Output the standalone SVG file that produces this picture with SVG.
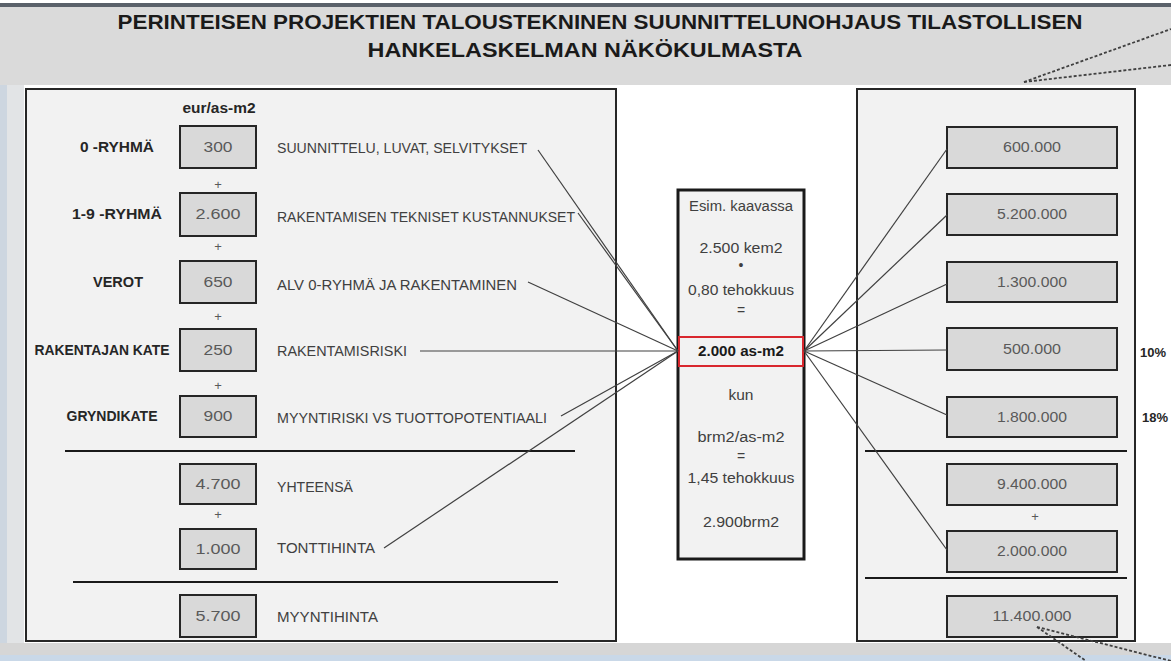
<svg xmlns="http://www.w3.org/2000/svg" width="1171" height="661" viewBox="0 0 1171 661">
<defs>
<style>
.bg-title{fill:#dadada}
.panel{fill:#f2f2f2;stroke:#262626;stroke-width:2}
.box{fill:#d9d9d9;stroke:#262626;stroke-width:2}
.val{font-family:"Liberation Sans",Arial,sans-serif;font-size:14px;fill:#595959;text-anchor:middle}
.lbl{font-family:"Liberation Sans",Arial,sans-serif;font-size:14px;fill:#404040}
.blbl{font-family:"Liberation Sans",Arial,sans-serif;font-size:14px;font-weight:bold;fill:#262626;text-anchor:middle}
.mid{font-family:"Liberation Sans",Arial,sans-serif;font-size:14px;fill:#404040;text-anchor:middle}
.plus{font-family:"Liberation Sans",Arial,sans-serif;font-size:13px;fill:#595959;text-anchor:middle}
.title{font-family:"Liberation Sans",Arial,sans-serif;font-size:20px;font-weight:bold;fill:#1a1a1a;text-anchor:middle}
.sep{stroke:#1a1a1a;stroke-width:2}
.conn{stroke:#404040;stroke-width:1.2;fill:none}
.dash{stroke:#404040;stroke-width:1.8;stroke-dasharray:3 2;fill:none}
</style>
</defs>
<!-- background -->
<rect x="0" y="0" width="1171" height="661" fill="#ffffff"/>
<rect x="0" y="85" width="24" height="576" fill="#e2e4e6"/>
<rect x="0" y="85" width="7" height="576" fill="#cdd6e0"/>
<rect class="bg-title" x="0" y="6" width="1171" height="79"/>
<rect x="0" y="3" width="1171" height="4" fill="#5a616a"/>
<rect x="0" y="643" width="1171" height="18" fill="#d6d6d6"/>
<rect x="0" y="655" width="1171" height="6" fill="#c9d8e8"/>

<g id="title">
<text class="title" x="600" y="29" textLength="965" lengthAdjust="spacingAndGlyphs">PERINTEISEN PROJEKTIEN TALOUSTEKNINEN SUUNNITTELUNOHJAUS TILASTOLLISEN</text>
<text class="title" x="585" y="57" textLength="435" lengthAdjust="spacingAndGlyphs">HANKELASKELMAN NÄKÖKULMASTA</text>
</g>

<g id="left-panel">
<rect class="panel" x="26" y="89" width="590" height="552"/>
<text class="blbl" x="219" y="113" textLength="73" lengthAdjust="spacingAndGlyphs">eur/as-m2</text>
<line class="sep" x1="65" y1="451" x2="575" y2="451"/>
<line class="sep" x1="73" y1="582" x2="558" y2="582"/>
<text class="plus" x="218" y="189">+</text>
<text class="plus" x="218" y="251">+</text>
<text class="plus" x="218" y="321">+</text>
<text class="plus" x="218" y="390">+</text>
<text class="plus" x="218" y="519">+</text>
</g>

<g id="row-0">
<text class="blbl" x="117" y="152" textLength="74" lengthAdjust="spacingAndGlyphs">0 -RYHMÄ</text>
<rect class="box" x="180" y="126" width="76" height="42"/>
<text class="val" x="218" y="152" textLength="29" lengthAdjust="spacingAndGlyphs">300</text>
<text class="lbl" x="277" y="153" textLength="250" lengthAdjust="spacingAndGlyphs">SUUNNITTELU, LUVAT, SELVITYKSET</text>
</g>
<g id="row-1-9">
<text class="blbl" x="117" y="219" textLength="90" lengthAdjust="spacingAndGlyphs">1-9 -RYHMÄ</text>
<rect class="box" x="180" y="193" width="76" height="43"/>
<text class="val" x="218" y="219" textLength="45" lengthAdjust="spacingAndGlyphs">2.600</text>
<text class="lbl" x="277" y="222" textLength="298" lengthAdjust="spacingAndGlyphs">RAKENTAMISEN TEKNISET KUSTANNUKSET</text>
</g>
<g id="row-verot">
<text class="blbl" x="118" y="287" textLength="50" lengthAdjust="spacingAndGlyphs">VEROT</text>
<rect class="box" x="180" y="261" width="76" height="42"/>
<text class="val" x="218" y="287" textLength="29" lengthAdjust="spacingAndGlyphs">650</text>
<text class="lbl" x="277" y="290" textLength="240" lengthAdjust="spacingAndGlyphs">ALV 0-RYHMÄ JA RAKENTAMINEN</text>
</g>
<g id="row-rakentajan-kate">
<text class="blbl" x="102" y="355" textLength="135" lengthAdjust="spacingAndGlyphs">RAKENTAJAN KATE</text>
<rect class="box" x="180" y="329" width="76" height="42"/>
<text class="val" x="218" y="355" textLength="29" lengthAdjust="spacingAndGlyphs">250</text>
<text class="lbl" x="277" y="356" textLength="130" lengthAdjust="spacingAndGlyphs">RAKENTAMISRISKI</text>
</g>
<g id="row-gryndikate">
<text class="blbl" x="112" y="421" textLength="91" lengthAdjust="spacingAndGlyphs">GRYNDIKATE</text>
<rect class="box" x="180" y="396" width="76" height="41"/>
<text class="val" x="218" y="421" textLength="29" lengthAdjust="spacingAndGlyphs">900</text>
<text class="lbl" x="277" y="423" textLength="270" lengthAdjust="spacingAndGlyphs">MYYNTIRISKI VS TUOTTOPOTENTIAALI</text>
</g>
<g id="row-yhteensa">
<rect class="box" x="180" y="464" width="76" height="40"/>
<text class="val" x="218" y="489" textLength="45" lengthAdjust="spacingAndGlyphs">4.700</text>
<text class="lbl" x="277" y="492" textLength="76" lengthAdjust="spacingAndGlyphs">YHTEENSÄ</text>
</g>
<g id="row-tonttihinta">
<rect class="box" x="180" y="529" width="76" height="40"/>
<text class="val" x="218" y="554" textLength="45" lengthAdjust="spacingAndGlyphs">1.000</text>
<text class="lbl" x="277" y="553" textLength="98" lengthAdjust="spacingAndGlyphs">TONTTIHINTA</text>
</g>
<g id="row-myyntihinta">
<rect class="box" x="180" y="595" width="76" height="42"/>
<text class="val" x="218" y="621" textLength="45" lengthAdjust="spacingAndGlyphs">5.700</text>
<text class="lbl" x="277" y="622" textLength="101" lengthAdjust="spacingAndGlyphs">MYYNTIHINTA</text>
</g>

<g id="middle-box">
<rect x="678" y="190" width="126" height="369" fill="#f2f2f2" stroke="#1a1a1a" stroke-width="3"/>
<text class="mid" x="741" y="211" textLength="104" lengthAdjust="spacingAndGlyphs">Esim. kaavassa</text>
<text class="mid" x="741" y="253" textLength="83" lengthAdjust="spacingAndGlyphs">2.500 kem2</text>
<text class="mid" x="741" y="270">•</text>
<text class="mid" x="741" y="295" textLength="106" lengthAdjust="spacingAndGlyphs">0,80 tehokkuus</text>
<text class="mid" x="741" y="315">=</text>
<text class="mid" x="741" y="400" textLength="25" lengthAdjust="spacingAndGlyphs">kun</text>
<text class="mid" x="741" y="442" textLength="87" lengthAdjust="spacingAndGlyphs">brm2/as-m2</text>
<text class="mid" x="741" y="461">=</text>
<text class="mid" x="741" y="483" textLength="107" lengthAdjust="spacingAndGlyphs">1,45 tehokkuus</text>
<text class="mid" x="741" y="527" textLength="76" lengthAdjust="spacingAndGlyphs">2.900brm2</text>
</g>
<g id="asm2-box">
<rect x="679" y="337" width="124" height="29" fill="#f2f2f2" stroke="#d9272e" stroke-width="2"/>
<text x="741" y="356" font-family="Liberation Sans, Arial, sans-serif" font-size="14" font-weight="bold" fill="#1a1a1a" text-anchor="middle" textLength="86" lengthAdjust="spacingAndGlyphs">2.000 as-m2</text>
</g>

<g id="right-panel">
<rect class="panel" x="857" y="89" width="278" height="552"/>
<line class="sep" x1="865" y1="451" x2="1127" y2="451"/>
<line class="sep" x1="865" y1="578" x2="1127" y2="578"/>
<text class="plus" x="1035" y="521">+</text>
</g>
<g id="r-600000">
<rect class="box" x="947" y="127" width="170" height="41"/>
<text class="val" x="1032" y="152" textLength="58" lengthAdjust="spacingAndGlyphs">600.000</text>
</g>
<g id="r-5200000">
<rect class="box" x="947" y="194" width="170" height="41"/>
<text class="val" x="1032" y="219" textLength="70" lengthAdjust="spacingAndGlyphs">5.200.000</text>
</g>
<g id="r-1300000">
<rect class="box" x="947" y="262" width="170" height="40"/>
<text class="val" x="1032" y="287" textLength="70" lengthAdjust="spacingAndGlyphs">1.300.000</text>
</g>
<g id="r-500000">
<rect class="box" x="947" y="328" width="170" height="42"/>
<text class="val" x="1032" y="354" textLength="58" lengthAdjust="spacingAndGlyphs">500.000</text>
<text x="1140" y="357" font-family="Liberation Sans, Arial, sans-serif" font-size="13" font-weight="bold" fill="#262626">10%</text>
</g>
<g id="r-1800000">
<rect class="box" x="947" y="397" width="170" height="40"/>
<text class="val" x="1032" y="422" textLength="70" lengthAdjust="spacingAndGlyphs">1.800.000</text>
<text x="1142" y="422" font-family="Liberation Sans, Arial, sans-serif" font-size="13" font-weight="bold" fill="#262626">18%</text>
</g>
<g id="r-9400000">
<rect class="box" x="947" y="464" width="170" height="41"/>
<text class="val" x="1032" y="489" textLength="70" lengthAdjust="spacingAndGlyphs">9.400.000</text>
</g>
<g id="r-2000000">
<rect class="box" x="947" y="531" width="170" height="41"/>
<text class="val" x="1032" y="556" textLength="70" lengthAdjust="spacingAndGlyphs">2.000.000</text>
</g>
<g id="r-11400000">
<rect class="box" x="947" y="596" width="170" height="41"/>
<text class="val" x="1032" y="621" textLength="79" lengthAdjust="spacingAndGlyphs">11.400.000</text>
</g>

<g id="connectors">
<line class="conn" x1="538" y1="150" x2="678" y2="351"/>
<line class="conn" x1="578" y1="213" x2="678" y2="351"/>
<line class="conn" x1="528" y1="282" x2="678" y2="351"/>
<line class="conn" x1="420" y1="351" x2="678" y2="351"/>
<line class="conn" x1="561" y1="416" x2="678" y2="351"/>
<line class="conn" x1="384" y1="548" x2="678" y2="351"/>
<line class="conn" x1="804" y1="351" x2="947" y2="149"/>
<line class="conn" x1="804" y1="351" x2="947" y2="215"/>
<line class="conn" x1="804" y1="351" x2="947" y2="284"/>
<line class="conn" x1="804" y1="351" x2="947" y2="350"/>
<line class="conn" x1="804" y1="351" x2="947" y2="415"/>
<line class="conn" x1="804" y1="351" x2="947" y2="550"/>
<path class="dash" d="M1024 82 L1171 29"/>
<path class="dash" d="M1024 82 L1171 65"/>
<path class="dash" d="M1037 627 L1086 661"/>
<path class="dash" d="M1037 627 L1171 661"/>
</g>
</svg>
